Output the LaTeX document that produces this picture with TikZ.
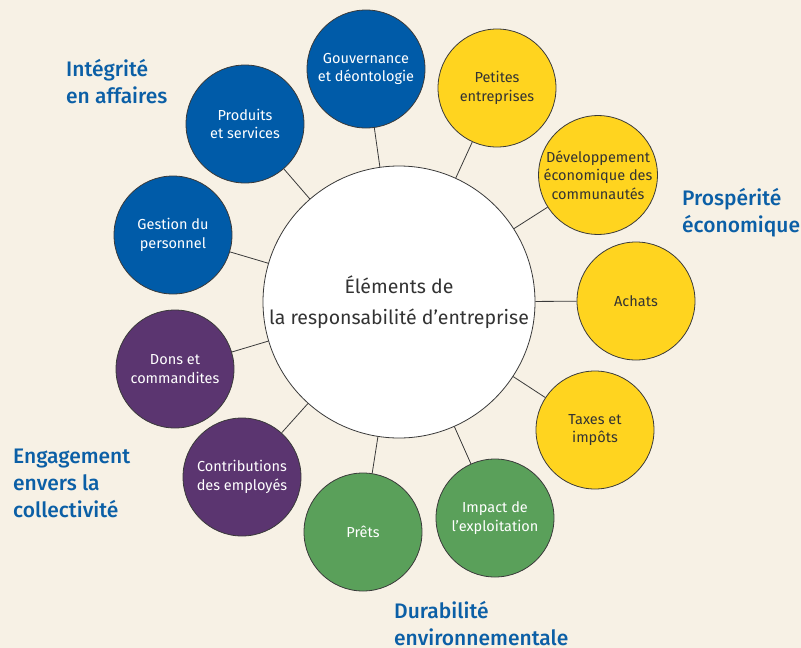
\documentclass[tikz,border=0pt]{standalone}
\usepackage{fontspec}
\usepackage{tikz}
\setmainfont{Fira Sans}
\newfontfamily\headfont{Fira Sans Medium}
\usetikzlibrary{shapes}
\definecolor{bgcream}{HTML}{F7F1E5}
\definecolor{vblue}{HTML}{005BA8}
\definecolor{vyellow}{HTML}{FFD41F}
\definecolor{vpurple}{HTML}{5B3570}
\definecolor{vgreen}{HTML}{5AA05A}
\definecolor{headblue}{HTML}{0B5FA6}
\definecolor{edgegray}{HTML}{3A3A3A}
\tikzstyle{vertex}=[circle,draw=edgegray,line width=0.8pt,minimum size=118pt,inner sep=0pt,align=center,font=\fontsize{14.5}{18.5}\selectfont]
\tikzstyle{Bvertex}=[vertex,fill=vblue,text=white]
\tikzstyle{Yvertex}=[vertex,fill=vyellow,text=black!80]
\tikzstyle{Pvertex}=[vertex,fill=vpurple,text=white]
\tikzstyle{Gvertex}=[vertex,fill=vgreen,text=white]
\tikzstyle{Cvertex}=[circle,draw=edgegray,line width=0.8pt,fill=white,minimum size=272pt,inner sep=0pt,align=center,text=black!80,font=\fontsize{19.5}{31}\selectfont]
\tikzstyle{heading}=[anchor=base west,align=left,inner sep=0pt,text=headblue,font=\headfont\fontsize{21}{27}\selectfont]
\tikzstyle{EdgeStyle}=[draw=edgegray,line width=0.8pt]

\begin{document}
\begin{tikzpicture}[x=1pt,y=-1pt]
    \fill[bgcream] (0,0) rectangle (801,648);
    \useasboundingbox (0,0) rectangle (801,648);
    % centre
    \node[Cvertex] (C) at (399,302) {\'El\'ements de\\la responsabilit\'e d’entreprise};
    % integrite en affaires
    \node[Bvertex] (GD) at (366,69)  {Gouvernance\\et d\'eontologie};
    \node[Bvertex] (PS) at (245,124) {Produits\\et services};
    \node[Bvertex] (GP) at (173,235) {Gestion du\\personnel};
    % prosperite economique
    \node[Yvertex] (PE) at (497,88)  {Petites\\entreprises};
    \node[Yvertex] (DE) at (598,175) {D\'eveloppement\\\'economique des\\communaut\'es};
    \node[Yvertex] (AC) at (636,301) {Achats};
    \node[Yvertex] (TI) at (595,430) {Taxes et\\imp\^ots};
    % durabilite
    \node[Gvertex] (IE) at (495,518) {Impact de\\l’exploitation};
    \node[Gvertex] (PR) at (363,532) {Pr\^ets};
    % engagement
    \node[Pvertex] (CE) at (242,477) {Contributions\\des employ\'es};
    \node[Pvertex] (DC) at (175,369) {Dons et\\commandites};
    % connectors
    \foreach \v in {GD,PS,GP,PE,DE,AC,TI,IE,PR,CE,DC}
        \draw[EdgeStyle] (C) -- (\v);
    % headings (anchored on the last line)
    \node[heading] (HI) at (66,103)  {Int\'egrit\'e\\en affaires};
    \node[heading] (HP) at (682,232) {Prosp\'erit\'e\\\'economique};
    \node[heading] (HE) at (13,517) {Engagement\\envers la\\collectivit\'e};
    \node[heading] (HD) at (394,645) {Durabilit\'e\\environnementale};
\end{tikzpicture}
\end{document}
